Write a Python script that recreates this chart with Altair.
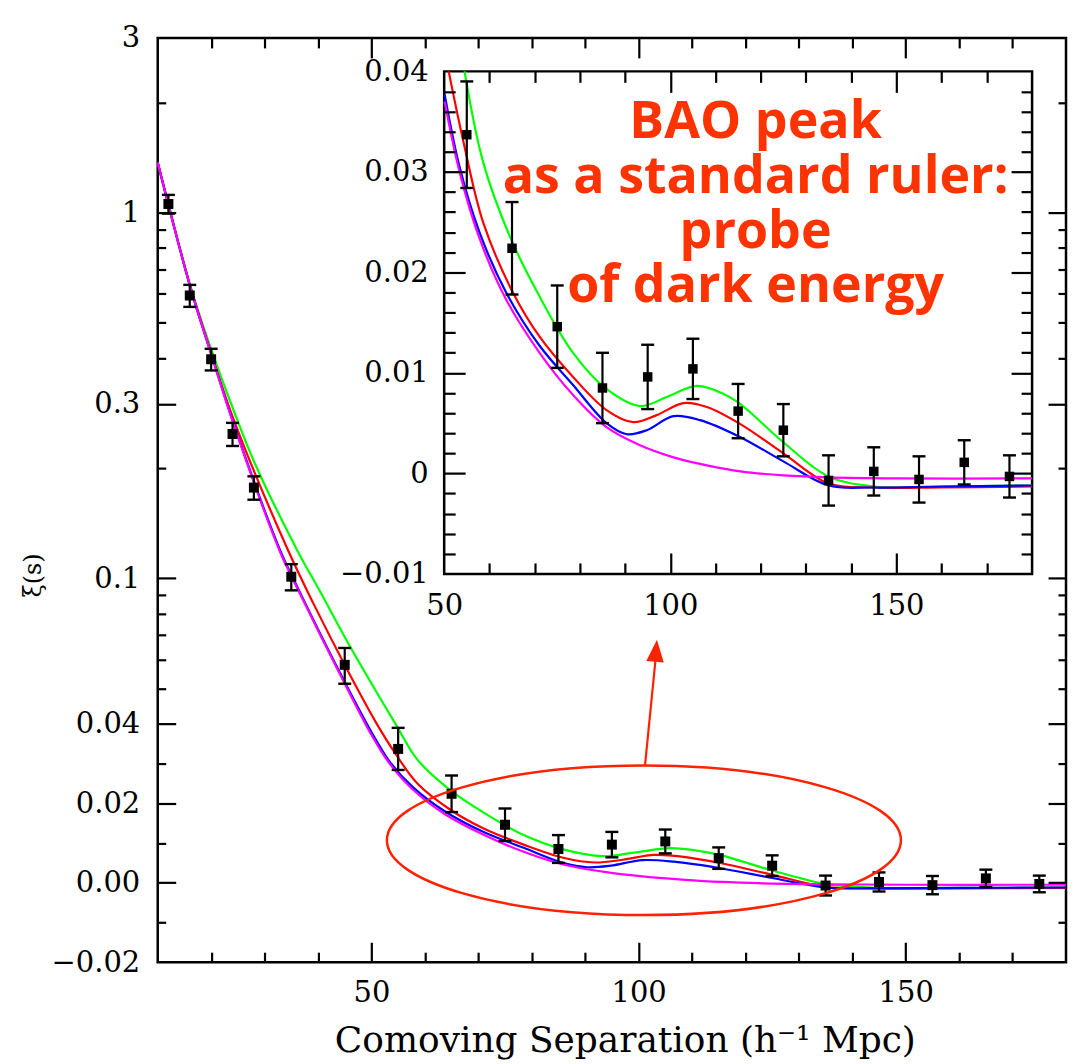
import math
import json
import altair as alt
import pandas as pd

# ---------------- values ----------------
# measured correlation function points (separation, xi, 1-sigma error)
pts_s = [12, 16, 20, 24, 28, 35, 45, 55, 65, 75, 85, 95, 105, 115, 125, 135, 145, 155, 165, 175]
pts_xi = [1.055, 0.593, 0.397, 0.248, 0.177, 0.101, 0.058, 0.0337, 0.0224, 0.0146, 0.0085,
          0.0096, 0.0104, 0.0062, 0.0043, -0.0007, 0.0002, -0.0006, 0.0011, -0.0003]
pts_err = [0.062, 0.041, 0.027, 0.018, 0.013, 0.0083, 0.0065, 0.0053, 0.0046, 0.0041, 0.0035,
           0.0032, 0.0030, 0.0027, 0.0026, 0.0025, 0.0024, 0.0023, 0.0022, 0.0021]

# model curves
green_s = [10, 16.1, 20.2, 24.2, 28.0, 36.1, 40.4, 46.0, 54.5, 58.6, 64.5, 71.1, 78.5,
           85.9, 93.3, 99.2, 105.9, 111.8, 115.5, 125, 135, 145, 160, 180]
green_xi = [1.37, 0.63, 0.415, 0.288, 0.209, 0.1194, 0.092, 0.0651, 0.040, 0.031,
            0.0236, 0.0176, 0.012, 0.0084, 0.0067, 0.0076, 0.0087, 0.0079, 0.0069, 0.0031,
            -0.0003, -0.0013, -0.0013, -0.0012]

red_s = [10, 16.1, 20.2, 24.2, 34.2, 39.2, 45.4, 51.0, 54.4, 58.6, 65.2, 71.1,
         78.5, 85.9, 91.8, 97.0, 102.9, 108.1, 115.5, 125, 135, 145, 160, 180]
red_xi = [1.37, 0.627, 0.405, 0.272, 0.121, 0.085, 0.0565, 0.040, 0.0327, 0.025,
          0.018, 0.0136, 0.0096, 0.0063, 0.0051, 0.0058, 0.0070, 0.0066, 0.0049, 0.0020,
          -0.0010, -0.0014, -0.0014, -0.0013]

blue_s = [10, 16.1, 20.2, 24.2, 32.9, 35.2, 45.1, 50.1, 53.4, 57.8, 63.7, 71.1,
          78.5, 85.9, 90.4, 94.8, 100.7, 106.6, 115.5, 125, 135, 145, 160, 180]
blue_xi = [1.37, 0.625, 0.402, 0.265, 0.1194, 0.101, 0.0517, 0.0377, 0.0305,
           0.0240, 0.0180, 0.0127, 0.0088, 0.0050, 0.0039, 0.0043, 0.0057, 0.0053, 0.0036,
           0.0012, -0.0012, -0.0014, -0.0013, -0.0012]

magenta_s = [10, 16.1, 20.2, 24.2, 32.9, 35.2, 45.1, 50.1, 53.4, 57.8, 63.7, 71.1,
             78.5, 85.9, 93.3, 100.7, 108.1, 115.5, 125, 135, 150, 180]
magenta_xi = [1.37, 0.625, 0.402, 0.264, 0.118, 0.100, 0.0512, 0.037, 0.030,
              0.0234, 0.0173, 0.0120, 0.0078, 0.0046, 0.0028, 0.0016, 0.0008, 0.0002, -0.0002,
              -0.0004, -0.0005, -0.0005]

model_names = ["green", "red", "blue", "magenta"]
model_colors = ["#00ff00", "#ff0000", "#0000ff", "#ff00ff"]

# axis tick values
main_major_vals = [-0.02, 0.0, 0.02, 0.04, 0.1, 0.3, 1.0, 3.0]
main_minor_vals = [-0.01, 0.01, 0.03, 0.05, 0.06, 0.07, 0.08, 0.09, 0.2, 0.4, 0.5, 0.6, 0.7,
                   0.8, 0.9, 2.0]
main_x_labels = [50, 100, 150]
main_x_ticks = list(range(20, 180, 10))
inset_x_domain = [50, 180]
inset_y_domain = [-0.01, 0.04]
inset_x_labels = [50, 100, 150]
inset_x_ticks = list(range(60, 180, 10))
inset_y_labels = [-0.01, 0.0, 0.01, 0.02, 0.03, 0.04]
inset_y_ticks = [k / 500 for k in range(-4, 20)]

# annotation (ellipse around the BAO bump and arrow towards the inset)
ell_s = [101.0]
ell_xi = [0.0107]
arrow_s0, arrow_xi0 = [101.2], [0.0295]
arrow_s1, arrow_xi1 = [103.2], [0.0605]
head_s, head_xi = [103.26], [0.0634]

note_text = "BAO peak\nas a standard ruler:\nprobe\nof dark energy"

# ---------------- layout ----------------
W, H = 910, 926
PAD = {"left": 150, "top": 29, "right": 5, "bottom": 100}
LBL_FONT = "DejaVu Serif"
LBL_SIZE = 29


def t_of(v):
    return v / 0.04 if v <= 0.04 else 1 + math.log(v / 0.04)


def t_expr(field):
    return f"datum.{field} <= 0.04 ? datum.{field} / 0.04 : 1 + log(datum.{field} / 0.04)"


Y_LO, Y_HI = t_of(main_major_vals[0]), t_of(main_major_vals[-1])
major_t = [t_of(v) for v in main_major_vals]
tick_t = sorted(t_of(v) for v in main_major_vals[1:-1] + main_minor_vals)

inv = "(datum.value <= 1 ? 0.04 * datum.value : 0.04 * exp(datum.value - 1))"
main_y_label_expr = (f"{inv} < 0.05 ? format({inv}, '.2f') : "
                     f"({inv} < 0.95 ? format({inv}, '.1f') : format({inv}, '.0f'))")

# inset pixel placement inside the main view
IX0, IX1 = 287, 876
IY0, IY1 = 537, 33.5

xs_main = alt.Scale(domain=[10, 180], nice=False, zero=False)
ys_main = alt.Scale(domain=[Y_LO, Y_HI], nice=False, zero=False)
xs_in = alt.Scale(domain=inset_x_domain, range=[IX0, IX1], nice=False, zero=False)
ys_in = alt.Scale(domain=inset_y_domain, range=[IY0, IY1], nice=False, zero=False)
color_scale = alt.Scale(domain=model_names, range=model_colors)

INTERP = "catmull-rom"


def tick_axis(orient, offset, values, test, major, minor):
    return alt.Axis(orient=orient, offset=offset, values=values, labels=False, domain=False,
                    grid=False, title=None, ticks=True, tickColor="black", tickWidth=2.2,
                    tickSize={"condition": {"test": test, "value": major}, "value": minor},
                    zindex=1)


def label_axis(orient, offset, values, pad, **kw):
    return alt.Axis(orient=orient, offset=offset, values=values, ticks=False, domain=False,
                    grid=False, labelFont=LBL_FONT, labelFontSize=LBL_SIZE, labelColor="black",
                    labelPadding=pad, labelOverlap=False, labelFlush=False, **kw)


x_major_test = "datum.value % 50 === 0"
main_y_major_test = f"indexof({json.dumps(major_t)}, datum.value) >= 0"
inset_y_major_test = "indexof([-0.01, 0, 0.01, 0.02, 0.03], datum.value) >= 0"

# ---------------- data frames ----------------
rows = []
for name, xs, ys in [("green", green_s, green_xi), ("red", red_s, red_xi),
                     ("blue", blue_s, blue_xi), ("magenta", magenta_s, magenta_xi)]:
    for s, v in zip(xs, ys):
        rows.append({"model": name, "s": s, "xi": v})
curves_df = pd.DataFrame(rows)
pts_df = pd.DataFrame({"s": pts_s, "xi": pts_xi, "err": pts_err})
ann_df = pd.DataFrame({"s": ell_s, "xi": ell_xi})
arrow_df = pd.DataFrame({"s0": arrow_s0, "xi0": arrow_xi0, "s1": arrow_s1, "xi1": arrow_xi1})
head_df = pd.DataFrame({"s": head_s, "xi": head_xi})
frame_df = pd.DataFrame({"x0": [inset_x_domain[0]], "x1": [inset_x_domain[1]],
                         "y0": [inset_y_domain[0]], "y1": [inset_y_domain[1]]})

# ---------------- main panel ----------------
m_curves = alt.Chart(curves_df).transform_calculate(yt=t_expr("xi")).mark_line(
    strokeWidth=2.2, interpolate=INTERP).encode(
    x=alt.X("s:Q", scale=xs_main,
            axis=label_axis("bottom", 0, main_x_labels, 16,
                            title="Comoving Separation (h\u207b\u00b9 Mpc)",
                            titleFont=LBL_FONT, titleFontSize=36, titleFontWeight="normal",
                            titleColor="black", titleX=468, titleY=89,
                            titleBaseline="alphabetic", titleAlign="center")),
    y=alt.Y("yt:Q", scale=ys_main,
            axis=label_axis("left", 0, major_t, 18, labelExpr=main_y_label_expr,
                            title="\u03be(s)", titleFont=LBL_FONT, titleFontSize=24,
                            titleFontWeight="normal", titleColor="black", titleX=-124,
                            titleY=538, titleAngle=270, titleBaseline="middle",
                            titleAlign="center")),
    color=alt.Color("model:N", scale=color_scale, legend=None),
)

pts_main = alt.Chart(pts_df).transform_calculate(
    lo="datum.xi - datum.err").transform_calculate(
    hi="datum.xi + datum.err").transform_calculate(
    yt=t_expr("xi")).transform_calculate(
    lot=t_expr("lo")).transform_calculate(
    hit=t_expr("hi"))

m_err = pts_main.mark_rule(strokeWidth=2.2, color="black").encode(
    x=alt.X("s:Q", scale=xs_main,
            axis=tick_axis("top", -H, main_x_ticks, x_major_test, 20, 10)),
    y=alt.Y("lot:Q", scale=ys_main,
            axis=tick_axis("right", -W, tick_t, main_y_major_test, 18, 8)),
    y2="hit:Q",
)
m_caps = pts_main.transform_fold(["lot", "hit"], as_=["end", "yend"]).mark_tick(
    orient="horizontal", size=13, thickness=2.4, color="black", opacity=1).encode(
    x=alt.X("s:Q", scale=xs_main, axis=None),
    y=alt.Y("yend:Q", scale=ys_main, axis=None),
)
m_pts = pts_main.mark_point(shape="square", size=100, filled=True, color="black",
                            opacity=1).encode(
    x=alt.X("s:Q", scale=xs_main,
            axis=tick_axis("bottom", -H, main_x_ticks, x_major_test, 20, 10)),
    y=alt.Y("yt:Q", scale=ys_main,
            axis=tick_axis("left", -W, tick_t, main_y_major_test, 18, 8)),
)

ELLIPSE = ("M-1,0C-1,-0.1607,-0.5523,-0.291,0,-0.291C0.5523,-0.291,1,-0.1607,1,0"
           "C1,0.1607,0.5523,0.291,0,0.291C-0.5523,0.291,-1,0.1607,-1,0Z")
m_ell = alt.Chart(ann_df).transform_calculate(yt=t_expr("xi")).mark_point(
    shape=ELLIPSE, size=515 ** 2, filled=False, color="#ff2200", strokeWidth=2.5,
    opacity=1).encode(
    x=alt.X("s:Q", scale=xs_main, axis=None),
    y=alt.Y("yt:Q", scale=ys_main, axis=None),
)
m_arrow = alt.Chart(arrow_df).transform_calculate(
    y0t=t_expr("xi0")).transform_calculate(y1t=t_expr("xi1")).mark_rule(
    color="#ff2200", strokeWidth=2.2).encode(
    x=alt.X("s0:Q", scale=xs_main, axis=None),
    x2="s1:Q",
    y=alt.Y("y0t:Q", scale=ys_main, axis=None),
    y2="y1t:Q",
)
m_head = alt.Chart(head_df).transform_calculate(yt=t_expr("xi")).mark_point(
    shape="M0,-1L0.8,1L-0.8,1Z", size=22 ** 2, filled=True, color="#ff2200", opacity=1,
    angle=5).encode(
    x=alt.X("s:Q", scale=xs_main, axis=None),
    y=alt.Y("yt:Q", scale=ys_main, axis=None),
)

main = alt.layer(m_curves, m_err, m_caps, m_pts, m_ell, m_arrow, m_head).resolve_axis(
    x="independent", y="independent")

# ---------------- inset panel ----------------
i_frame = alt.Chart(frame_df).mark_rect(fill="white", stroke="black", strokeWidth=2.5).encode(
    x=alt.X("x0:Q", scale=xs_in,
            axis=label_axis("bottom", IY0 - H, inset_x_labels, 18, title=None)),
    x2="x1:Q",
    y=alt.Y("y0:Q", scale=ys_in,
            axis=label_axis("left", -IX0, inset_y_labels, 16, title=None,
                            labelExpr="datum.value == 0 ? '0' : format(datum.value, '.2f')")),
    y2="y1:Q",
)
i_curves = alt.Chart(curves_df).transform_filter(
    "datum.s >= 50 && datum.xi <= 0.0401").mark_line(
    strokeWidth=2.2, interpolate=INTERP).encode(
    x=alt.X("s:Q", scale=xs_in,
            axis=tick_axis("top", -IY0, inset_x_ticks, x_major_test, 21, 11)),
    y=alt.Y("xi:Q", scale=ys_in,
            axis=tick_axis("right", IX0 - W, inset_y_ticks, inset_y_major_test, 21, 11)),
    color=alt.Color("model:N", scale=color_scale, legend=None),
)
pts_in = alt.Chart(pts_df).transform_filter("datum.s >= 50").transform_calculate(
    lo="datum.xi - datum.err").transform_calculate(hi="datum.xi + datum.err")
i_err = pts_in.mark_rule(strokeWidth=2.2, color="black").encode(
    x=alt.X("s:Q", scale=xs_in,
            axis=tick_axis("bottom", IY1 - H, inset_x_ticks, x_major_test, 21, 11)),
    y=alt.Y("lo:Q", scale=ys_in,
            axis=tick_axis("left", -IX1, inset_y_ticks, inset_y_major_test, 21, 11)),
    y2="hi:Q",
)
i_caps = pts_in.transform_fold(["lo", "hi"], as_=["end", "yend"]).mark_tick(
    orient="horizontal", size=13, thickness=2.4, color="black", opacity=1).encode(
    x=alt.X("s:Q", scale=xs_in, axis=None),
    y=alt.Y("yend:Q", scale=ys_in, axis=None),
)
i_pts = pts_in.mark_point(shape="square", size=90, filled=True, color="black",
                          opacity=1).encode(
    x=alt.X("s:Q", scale=xs_in, axis=None),
    y=alt.Y("xi:Q", scale=ys_in, axis=None),
)
inset = alt.layer(i_frame, i_curves, i_err, i_caps, i_pts).resolve_axis(
    x="independent", y="independent")

# ---------------- annotation text ----------------
note = alt.Chart(alt.Data(values=[{}])).mark_text(
    text=note_text, lineBreak="\n", align="center", baseline="alphabetic",
    font="Open Sans", fontWeight="bold", fontSize=52, lineHeight=55,
    color="#ff3300").encode(x=alt.value(599), y=alt.value(100))

chart = alt.layer(main, inset, note).resolve_scale(
    x="independent", y="independent").properties(
    width=W, height=H, padding=PAD, autosize=alt.AutoSizeParams(type="none"),
    background="white").configure_view(stroke="black", strokeWidth=2.5)

chart.save("out.html", embed_options={"renderer": "svg", "actions": False})
